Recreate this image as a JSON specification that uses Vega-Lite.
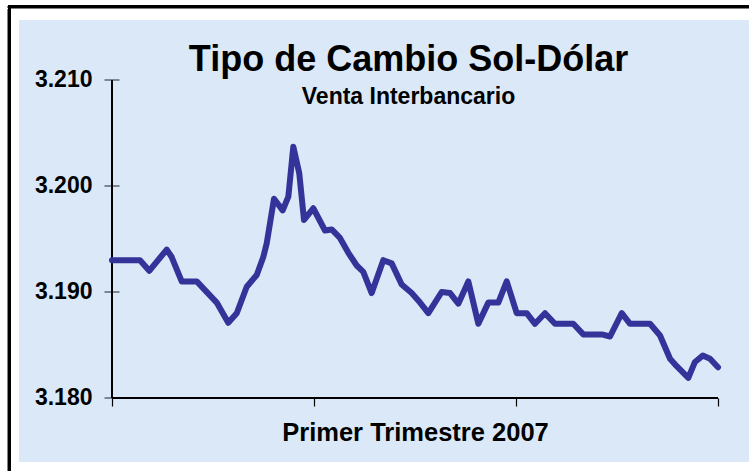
{
  "$schema": "https://vega.github.io/schema/vega-lite/v6.json",
  "width": 749,
  "height": 471,
  "autosize": {"type": "none"},
  "padding": 0,
  "background": "white",
  "title": {
    "text": "Tipo de Cambio Sol-Dólar",
    "subtitle": "Venta Interbancario",
    "anchor": "middle",
    "orient": "top",
    "offset": -110,
    "dx": 34,
    "font": "Liberation Sans",
    "fontSize": 36,
    "fontWeight": "bold",
    "color": "black",
    "subtitleFont": "Liberation Sans",
    "subtitleFontSize": 23,
    "subtitleFontWeight": "bold",
    "subtitleColor": "black",
    "subtitlePadding": 7
  },
  "config": {"view": {"stroke": null}},
  "datasets": {
    "fx": [
      {"t": 0, "v": 3.193}, {"t": 2.77, "v": 3.193}, {"t": 3.69, "v": 3.192}, {"t": 5.42, "v": 3.194},
      {"t": 5.91, "v": 3.1933}, {"t": 6.9, "v": 3.191}, {"t": 8.39, "v": 3.191}, {"t": 10.37, "v": 3.189},
      {"t": 11.51, "v": 3.1871}, {"t": 12.35, "v": 3.188}, {"t": 13.34, "v": 3.1905}, {"t": 14.33, "v": 3.1916},
      {"t": 14.98, "v": 3.1933}, {"t": 15.32, "v": 3.1946}, {"t": 16.04, "v": 3.1988}, {"t": 16.9, "v": 3.1977},
      {"t": 17.46, "v": 3.199}, {"t": 17.95, "v": 3.2037}, {"t": 18.54, "v": 3.2012}, {"t": 19.01, "v": 3.1968},
      {"t": 19.93, "v": 3.1979}, {"t": 21.09, "v": 3.1958}, {"t": 21.75, "v": 3.1959}, {"t": 22.57, "v": 3.1951},
      {"t": 23.4, "v": 3.1937}, {"t": 24.23, "v": 3.1925}, {"t": 24.88, "v": 3.1919}, {"t": 25.71, "v": 3.1899},
      {"t": 26.86, "v": 3.193}, {"t": 27.69, "v": 3.1927}, {"t": 28.68, "v": 3.1907}, {"t": 29.67, "v": 3.1899},
      {"t": 30.5, "v": 3.189}, {"t": 31.32, "v": 3.188}, {"t": 32.64, "v": 3.19}, {"t": 33.47, "v": 3.1899},
      {"t": 34.29, "v": 3.1889}, {"t": 35.28, "v": 3.191}, {"t": 36.27, "v": 3.187}, {"t": 37.26, "v": 3.189},
      {"t": 38.25, "v": 3.189}, {"t": 39.08, "v": 3.191}, {"t": 40.07, "v": 3.188}, {"t": 41.06, "v": 3.188},
      {"t": 41.88, "v": 3.187}, {"t": 42.87, "v": 3.188}, {"t": 43.86, "v": 3.187}, {"t": 45.67, "v": 3.187},
      {"t": 46.66, "v": 3.186}, {"t": 48.49, "v": 3.186}, {"t": 49.31, "v": 3.1858}, {"t": 50.47, "v": 3.188},
      {"t": 51.29, "v": 3.187}, {"t": 53.27, "v": 3.187}, {"t": 54.26, "v": 3.1859}, {"t": 55.25, "v": 3.1837},
      {"t": 55.91, "v": 3.183}, {"t": 57.06, "v": 3.1819}, {"t": 57.72, "v": 3.1834}, {"t": 58.49, "v": 3.184},
      {"t": 59.21, "v": 3.1837}, {"t": 60, "v": 3.1829}
    ],
    "yticks": [{"v": 3.18}, {"v": 3.19}, {"v": 3.2}, {"v": 3.21}]
  },
  "data": {"name": "fx"},
  "layer": [
    {
      "mark": {"type": "rect", "fill": "white", "stroke": "black", "strokeWidth": 3},
      "encoding": {
        "x": {"datum": -10.149, "type": "quantitative", "scale": {"domain": [-11.0891, 63.0693], "nice": false, "zero": false}},
        "x2": {"datum": 66},
        "y": {"datum": 3.216887, "type": "quantitative", "scale": {"domain": [3.173113, 3.217547], "nice": false, "zero": false}},
        "y2": {"datum": 3.17}
      }
    },
    {
      "mark": {"type": "rect", "color": "#dae8f7"},
      "encoding": {
        "x": {"datum": -9.208, "type": "quantitative"},
        "x2": {"datum": 63.0693},
        "y": {"datum": 3.21566, "type": "quantitative"},
        "y2": {"datum": 3.173962}
      }
    },
    {
      "mark": {"type": "rule", "color": "black", "strokeWidth": 1.2},
      "encoding": {
        "x": {"datum": 0, "type": "quantitative"},
        "y": {"datum": 3.18, "type": "quantitative"},
        "y2": {"datum": 3.21}
      }
    },
    {
      "mark": {"type": "rule", "color": "black", "strokeWidth": 1.2},
      "encoding": {
        "x": {"datum": 0, "type": "quantitative"},
        "x2": {"datum": 60},
        "y": {"datum": 3.18, "type": "quantitative"}
      }
    },
    {
      "data": {"name": "yticks"},
      "mark": {"type": "tick", "orient": "horizontal", "color": "black", "size": 15, "thickness": 1.2},
      "encoding": {
        "x": {"datum": 0, "type": "quantitative"},
        "y": {"field": "v", "type": "quantitative"}
      }
    },
    {
      "mark": {"type": "line", "color": "#333399", "strokeWidth": 6, "strokeJoin": "round", "strokeCap": "round"},
      "encoding": {
        "x": {
          "field": "t", "type": "quantitative",
          "axis": {
            "orient": "bottom", "offset": -73, "values": [0, 20, 40, 60], "labels": false, "zindex": 2,
            "domain": false, "grid": false, "ticks": true, "tickSize": 8, "tickColor": "black", "tickWidth": 1.2,
            "title": "Primer Trimestre 2007", "titleFont": "Liberation Sans", "titleFontSize": 25.5,
            "titleFontWeight": "bold", "titleColor": "black", "titlePadding": 14, "titleX": 415
          }
        },
        "y": {
          "field": "v", "type": "quantitative",
          "axis": {
            "orient": "left", "offset": -112, "values": [3.18, 3.19, 3.2, 3.21], "format": ".3f", "zindex": 2,
            "domain": false, "grid": false, "ticks": false, "tickSize": 0, "labelPadding": 20,
            "labelFont": "Liberation Sans", "labelFontSize": 23, "labelFontWeight": "bold", "labelColor": "black",
            "title": null
          }
        }
      }
    }
  ]
}
